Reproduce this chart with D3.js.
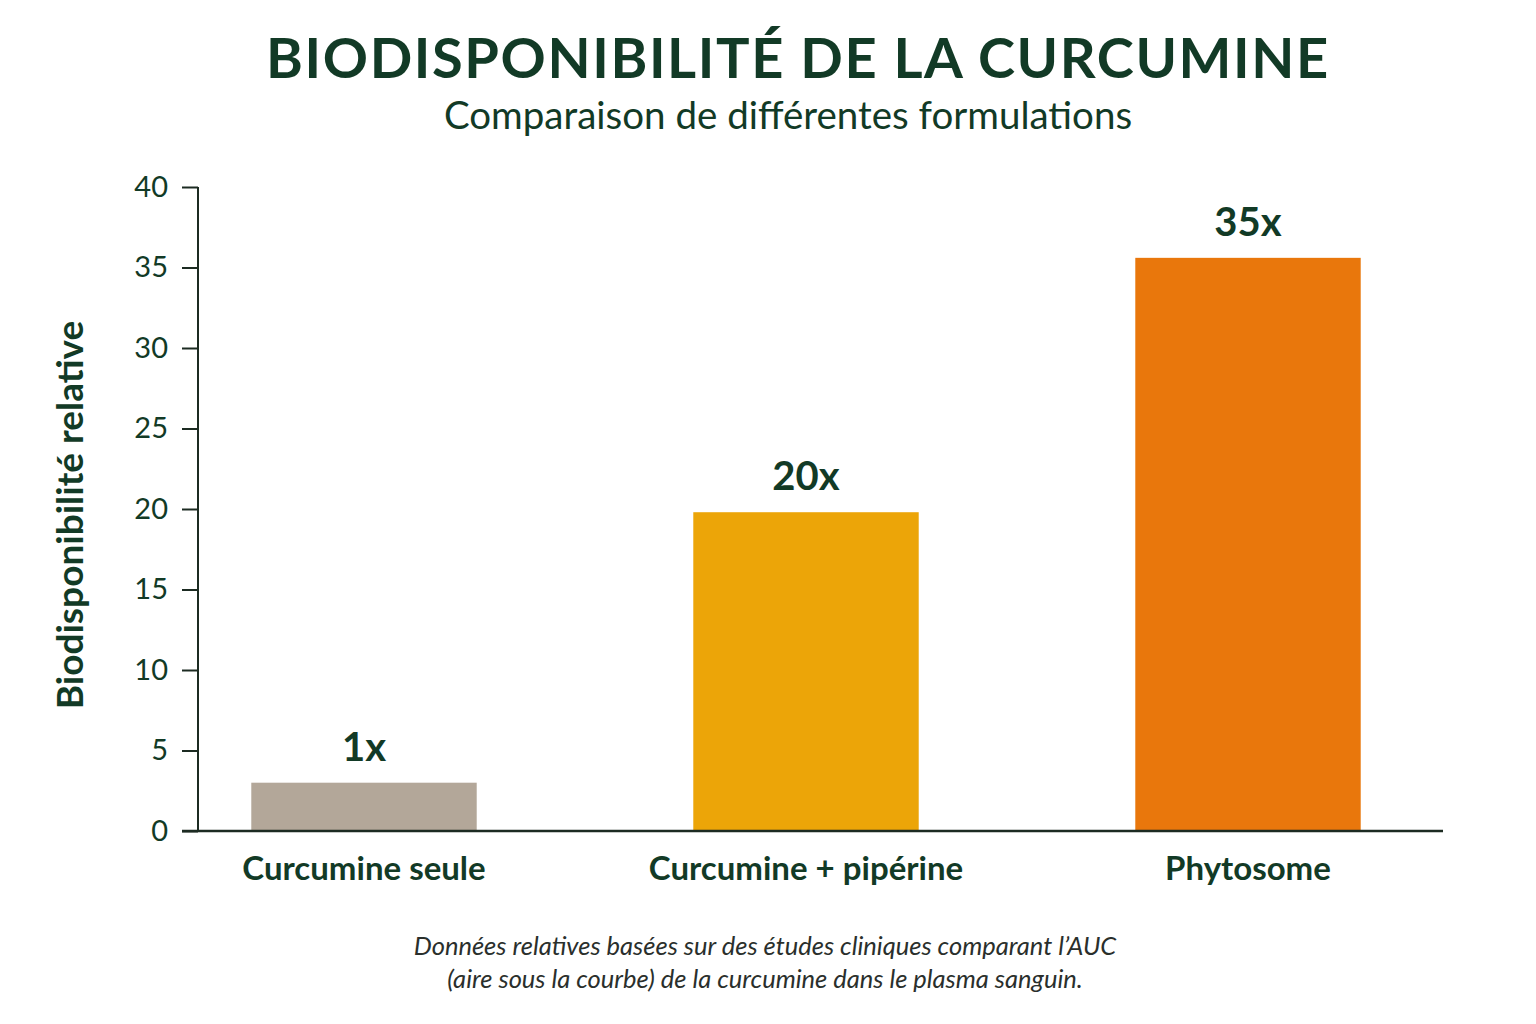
<!DOCTYPE html>
<html>
<head>
<meta charset="utf-8">
<script src="https://cdn.jsdelivr.net/npm/d3@7"></script>
<style>
  body { margin: 0; background: #fff; }
  svg text { font-family: Lato, "Open Sans", sans-serif; fill: #123a26; }
  .title { font-size: 56px; font-weight: 700; letter-spacing: 1.6px; }
  .subtitle { font-size: 38.5px; font-weight: 400; }
  .y.axis text { font-size: 29px; }
  .y.axis line, .y.axis path { stroke: #1c2b22; stroke-width: 2; }
  .ylabel { font-size: 37px; font-weight: 700; }
  .cat { font-size: 33px; font-weight: 700; }
  .val { font-size: 40px; font-weight: 700; }
  .note { font-size: 25.5px; font-style: italic; fill: #2a2f2c; }
</style>
</head>
<body>
<script>
const categories = ['Curcumine seule', 'Curcumine + pipérine', 'Phytosome'];
const values = [3.0, 19.8, 35.6];
const valueLabels = ['1x', '20x', '35x'];
const colors = ['#b3a799', '#eca508', '#e9770c'];
const yTicks = [0, 5, 10, 15, 20, 25, 30, 35, 40];

const w = 1536, h = 1024;

const svg = d3.select('body').append('svg')
  .attr('width', w)
  .attr('height', h);

const xScale = d3.scaleBand()
  .domain(categories)
  .range([143, 1469])
  .paddingInner(0.49)
  .paddingOuter(0.245);

const yScale = d3.scaleLinear()
  .domain([0, 40])
  .range([831, 187]);

svg.append('text')
  .attr('class', 'title')
  .attr('x', 798).attr('y', 78)
  .attr('text-anchor', 'middle')
  .text('BIODISPONIBILITÉ DE LA CURCUMINE');

svg.append('text')
  .attr('class', 'subtitle')
  .attr('x', 788).attr('y', 129)
  .attr('text-anchor', 'middle')
  .text('Comparaison de différentes formulations');

// y axis
let yaxis = svg.append('g')
  .attr('class', 'y axis')
  .attr('transform', 'translate(198,0)')
  .call(
    d3.axisLeft(yScale)
    .tickValues(yTicks)
    .tickSizeInner(16)
    .tickSizeOuter(0)
    .tickPadding(14)
  );
yaxis.select('.domain').remove();
svg.append('line')
  .attr('x1', 198).attr('x2', 198)
  .attr('y1', yScale(40)).attr('y2', yScale(0))
  .attr('stroke', '#1c2b22').attr('stroke-width', 2);

svg.append('text')
  .attr('class', 'ylabel')
  .attr('transform', 'translate(83,' + ((yScale(0) + yScale(40)) / 2 + 6) + ') rotate(-90)')
  .attr('text-anchor', 'middle')
  .text('Biodisponibilité relative');

// bars
svg.selectAll('.bar')
  .data(categories)
  .enter().append('rect')
  .attr('class', 'bar')
  .attr('x', d => xScale(d))
  .attr('width', xScale.bandwidth())
  .attr('y', (d, i) => yScale(values[i]))
  .attr('height', (d, i) => yScale(0) - yScale(values[i]))
  .attr('fill', (d, i) => colors[i]);

svg.selectAll('.val')
  .data(categories)
  .enter().append('text')
  .attr('class', 'val')
  .attr('x', d => xScale(d) + xScale.bandwidth() / 2)
  .attr('y', (d, i) => yScale(values[i]) - 22)
  .attr('text-anchor', 'middle')
  .text((d, i) => valueLabels[i]);

// x baseline
svg.append('line')
  .attr('x1', 182).attr('x2', 1443)
  .attr('y1', yScale(0)).attr('y2', yScale(0))
  .attr('stroke', '#1c2b22').attr('stroke-width', 2.5);

svg.selectAll('.cat')
  .data(categories)
  .enter().append('text')
  .attr('class', 'cat')
  .attr('x', d => xScale(d) + xScale.bandwidth() / 2)
  .attr('y', 880)
  .attr('text-anchor', 'middle')
  .text(d => d);

const notes = ['Données relatives basées sur des études cliniques comparant l’AUC',
  '(aire sous la courbe) de la curcumine dans le plasma sanguin.'];
svg.selectAll('.note')
  .data(notes)
  .enter().append('text')
  .attr('class', 'note')
  .attr('x', 765)
  .attr('y', (d, i) => 955 + i * 33)
  .attr('text-anchor', 'middle')
  .text(d => d);
</script>
</body>
</html>
